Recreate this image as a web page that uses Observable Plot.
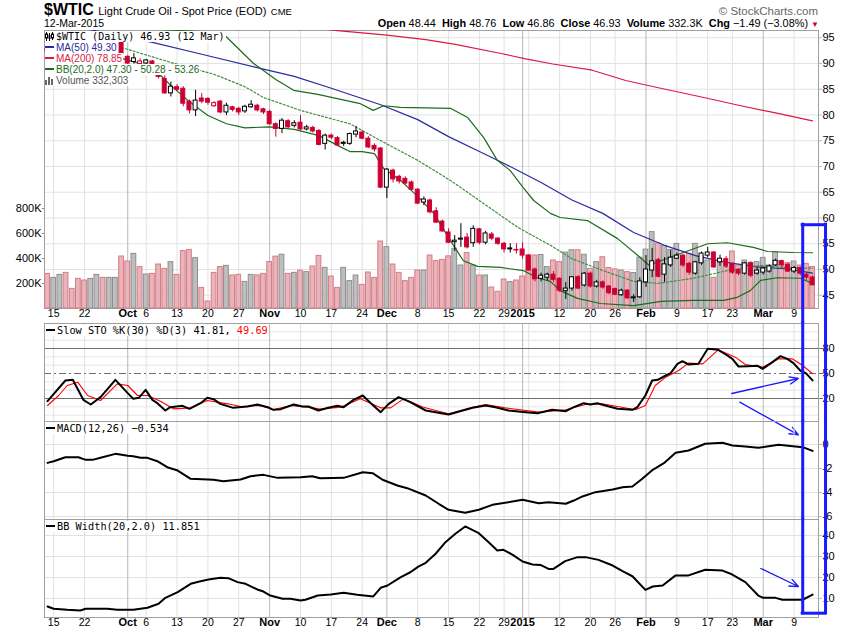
<!DOCTYPE html>
<html><head><meta charset="utf-8">
<script src="https://cdn.jsdelivr.net/npm/d3@7"></script>
<script src="https://cdn.jsdelivr.net/npm/@observablehq/plot@0.6"></script>
<style>
body{margin:0;background:#fff;}
#chart{position:relative;width:850px;height:633px;overflow:hidden;font-family:"Liberation Sans",Arial,sans-serif;background:#fff;}
#chart svg{position:absolute;left:0;}
.txt{position:absolute;white-space:nowrap;}
.leg{position:absolute;white-space:nowrap;background:#fff;line-height:11px;padding-right:1px;}
.mono{font-family:"DejaVu Sans Mono",monospace;font-size:10.3px;}
.sw{display:inline-block;width:9px;height:2px;vertical-align:middle;margin-right:2px;position:relative;top:-1px;}
</style></head><body><div id="chart"></div><script>
// ---------- calendar ----------
const firstSession = "2014-09-12", lastSession = "2015-03-12";
const holidays = ["2014-11-27","2014-12-25","2015-01-01","2015-01-19","2015-02-16"];
const closeBefore = 92.83; // close of 11-Sep-2014

// ---------- tick labels ----------
const weekTickDates = ["2014-09-15","2014-09-22","2014-10-06","2014-10-13","2014-10-20","2014-10-27","2014-11-10","2014-11-17","2014-11-24","2014-12-08","2014-12-15","2014-12-22","2014-12-29","2015-01-05","2015-01-12","2015-01-20","2015-01-26","2015-02-09","2015-02-17","2015-02-23","2015-03-09"];
const weekTickLabels = ["15","22","6","13","20","27","10","17","24","8","15","22","29","","12","20","26","9","17","23","9"];
const monthTickDates = ["2014-10-01","2014-11-03","2014-12-01","2015-01-02","2015-02-02","2015-03-02"];
const monthTickLabels = ["Oct","Nov","Dec","2015","Feb","Mar"];
const priceTicks = [45,50,55,60,65,70,75,80,85,90,95];
const volumeTicks = [200,400,600,800];
const stoTicks = [20,50,80];
const stoLight = [0,10,30,40,60,70,90,100];
const macdTicks = [0,-2,-4,-6];
const bbwTicks = [10,20,30,40];

// ---------- daily OHLC + volume (K) ----------
const open  = [92.8,92.2,92.9,94.9,94.3,93.0,92.3,91.3,91.5,92.9,92.6,93.2,94.1,91.3,90.3,89.9,90.0,90.4,89.3,87.0,84.2,85.4,85.1,82.6,80.9,83.2,83.1,81.7,82.6,80.5,81.5,81.2,80.7,81.5,81.8,81.1,80.6,78.2,77.3,78.8,77.9,78.5,77.2,77.5,76.9,74.4,76.0,75.5,74.4,74.4,76.2,76.6,75.4,74.0,73.5,65.9,69.2,68.0,67.6,66.9,65.5,63.0,63.4,61.3,59.3,57.2,55.3,55.8,56.2,55.1,57.8,55.2,56.8,56.0,55.0,53.9,53.8,53.9,52.7,50.0,48.2,48.4,49.0,48.2,45.8,46.3,48.5,46.9,49.2,46.7,47.5,46.7,46.2,45.0,45.9,44.4,44.6,47.5,49.8,51.8,49.0,50.8,52.1,52.7,51.1,49.2,51.2,52.7,53.3,51.4,52.0,51.0,49.9,49.2,51.2,49.2,49.4,49.6,50.8,51.6,50.9,49.6,50.3,49.0,48.44];
const high  = [93.3,93.1,95.0,95.3,94.5,93.3,92.5,91.9,93.1,93.3,93.8,94.9,94.5,91.5,91.9,90.9,90.8,90.6,89.6,87.6,86.4,85.9,85.5,82.9,84.8,84.2,83.4,82.6,82.8,82.3,81.7,81.5,81.9,82.8,82.1,81.3,80.9,78.5,79.3,79.1,78.9,79.9,78.0,77.8,77.2,76.3,76.3,75.8,74.9,76.5,77.8,77.0,75.8,74.4,73.7,69.6,69.5,68.3,68.0,67.2,65.7,64.1,63.7,62.0,59.6,57.9,56.6,58.9,57.0,58.5,58.0,57.4,57.2,56.2,55.3,55.0,55.0,55.2,52.9,50.3,49.3,49.3,49.6,48.4,47.5,48.6,48.8,49.4,49.5,47.9,47.8,46.9,46.4,46.2,46.1,45.1,48.4,52.7,54.1,52.2,52.3,53.7,53.2,53.0,51.4,51.6,53.4,54.3,53.5,52.8,52.5,51.3,50.1,51.4,51.5,50.4,50.5,50.9,52.0,51.8,51.2,50.6,50.5,49.3,48.76];
const low   = [91.8,91.5,92.6,93.9,92.8,91.9,90.8,90.9,91.3,92.0,92.3,92.8,91.4,89.6,89.9,89.5,89.3,88.9,87.0,84.0,83.5,84.6,81.6,80.2,79.7,82.2,81.9,81.5,80.2,79.9,80.6,79.9,80.3,81.3,80.6,80.1,78.0,75.7,76.4,77.4,77.5,76.9,76.9,76.5,74.0,73.2,75.2,73.9,73.9,74.1,75.6,75.2,73.5,72.8,65.7,63.8,66.8,66.6,66.4,65.3,62.6,62.4,60.8,59.0,57.2,55.0,53.5,54.3,54.0,54.3,54.8,54.8,55.6,54.7,53.2,53.2,53.0,52.0,49.7,47.6,47.6,47.8,47.5,45.5,44.2,45.8,46.1,46.6,46.4,46.4,46.2,45.1,44.9,44.8,44.2,43.6,44.4,46.5,48.4,48.4,47.5,50.4,51.9,50.4,48.9,48.9,50.8,52.3,50.2,50.6,50.2,49.0,48.8,48.9,48.4,48.9,48.9,49.3,50.6,50.4,49.4,49.2,48.8,47.9,46.86];
const close = [92.3,92.9,94.9,94.4,93.1,92.4,91.5,91.6,92.8,92.5,93.5,94.6,91.9,90.0,91.0,90.4,90.6,89.4,87.4,84.2,85.5,84.9,82.2,80.9,82.8,82.6,82.4,82.3,80.5,81.8,81.0,80.5,81.6,82.0,80.9,80.5,78.2,77.3,78.9,77.6,78.4,77.2,77.6,76.8,74.2,76.0,75.6,74.1,74.6,76.3,76.8,75.4,73.7,73.3,65.9,69.4,67.5,67.1,66.7,65.5,62.8,63.6,61.1,59.1,57.4,55.2,55.6,56.0,54.3,57.9,55.2,57.0,56.0,55.0,53.9,54.1,53.7,52.7,49.8,48.1,48.8,49.0,48.0,45.9,46.3,48.5,46.3,49.2,46.7,47.5,46.5,45.4,45.1,45.9,44.4,44.6,47.7,50.0,51.6,48.6,51.0,52.3,52.7,50.8,49.4,51.4,53.1,53.3,50.4,52.1,50.6,49.4,49.2,51.2,48.8,49.8,50.2,50.6,51.7,50.8,49.6,50.3,49.2,48.42,46.93];
const volumeK = [277,245,269,285,157,237,224,237,269,245,245,245,416,376,437,331,272,277,352,317,371,269,459,469,403,165,56,285,331,341,264,269,213,269,265,277,372,415,430,277,285,303,291,336,421,325,256,165,325,219,264,189,288,245,536,491,352,285,219,245,304,304,424,379,389,417,478,344,444,344,264,264,168,134,232,211,224,256,424,424,428,331,384,371,447,466,466,430,317,371,410,324,313,304,291,284,406,471,611,520,500,469,517,416,437,517,416,384,245,363,331,456,344,384,365,371,405,344,451,379,363,376,344,357,332.303];

// ---------- overlays: [trading day, value] ----------
const ma50 = [[0,98.3],[8,96.3],[17,94.1],[25,91.8],[35,88.9],[40,87.5],[46,85.2],[54,82.0],[60,79.1],[65,75.8],[70,72.9],[74,70.6],[80,66.9],[85,63.5],[90,60.9],[95,57.2],[100,54.7],[105,52.7],[110,51.4],[115,50.5],[120,50.1],[124,49.30]];
const ma200 = [[40,97.3],[47,96.4],[55,95.5],[61.3,94.64],[66.1,93.7],[73.7,91.9],[77.5,90.9],[81.9,89.9],[88.3,88.7],[93.7,86.7],[99,85.3],[106,83.5],[112,81.9],[118,80.4],[124,78.85]];
const bbUpper = [[12,97.5],[18,96.6],[25,96.2],[28.8,95.4],[33.4,90.0],[37,86.9],[39.9,84.8],[43.8,84.0],[50.7,82.2],[52.8,80.9],[54.5,81.8],[57.2,81.5],[65.3,81.3],[68.1,79.5],[70.7,75.6],[72.9,71.2],[75,69.2],[77.1,65.9],[78.8,63.4],[81.5,60.9],[83.1,60.1],[87.5,59.5],[92.4,56.0],[96.2,52.2],[97.5,50.8],[99.4,51.7],[102.6,53.1],[107,55.0],[110.2,55.2],[114.4,54.3],[116.7,53.5],[120.9,53.3],[124,53.26]];
const bbMiddle = [[12,93.1],[20,90.2],[27,87.9],[32,85.5],[35,83.4],[41,80.9],[49,78.3],[54.5,74.7],[60,71.2],[65.3,67.3],[70.7,62.8],[76.2,58.2],[81.5,54.7],[85,52.1],[90,49.8],[95,47.7],[99,47.3],[104.7,48.3],[110.2,49.8],[115.6,50.8],[121,50.2],[124,50.28]];
const bbLower = [[12,91.0],[15,90.0],[18,88.1],[20,85.7],[23,82.6],[26,79.9],[29,78.3],[32,77.5],[36,77.7],[40,77.2],[44,76.0],[47,74.1],[49,72.9],[51,72.9],[53,72.5],[54.5,69.6],[57.2,67.3],[60,64.2],[62.6,60.9],[65.3,55.6],[67.4,51.7],[69.7,50.6],[73.4,50.4],[77.1,49.8],[79.4,48.4],[81.5,47.7],[83.1,45.9],[85.9,44.4],[89.6,43.4],[95,43.0],[99.4,43.8],[104.7,44.0],[109.6,44.0],[111.8,44.6],[113.9,45.9],[115.6,47.9],[118.3,48.4],[122,48.3],[124,47.30]];

// ---------- indicator panels: [trading day, value] ----------
const stoK = [[0,16.8],[2.9,41.6],[4.1,42.4],[5.8,18.4],[7.0,12.8],[8.6,21.6],[11.0,42.4],[13.0,26.4],[13.9,19.6],[14.8,20.8],[15.9,30.4],[17.0,18.4],[17.8,14.4],[19.1,5.6],[19.9,9.6],[21.9,11.2],[23.0,7.6],[24.8,14.4],[25.9,20.8],[26.9,19.2],[28.0,13.6],[30.1,8.8],[32.4,10.4],[34.0,12.8],[35.7,9.6],[36.6,6.4],[37.8,7.2],[39.9,12.8],[41.3,10.4],[42.3,10.4],[43.9,5.6],[45.5,8.8],[47.0,11.2],[48.0,9.6],[49.6,18.4],[51.1,23.6],[52.4,14.4],[54.0,3.6],[55.3,13.6],[56.9,21.6],[58.8,15.6],[61.3,5.6],[62.9,3.6],[65.0,0.8],[67.3,5.6],[68.9,8.8],[71.0,11.6],[72.6,9.6],[74.7,5.6],[77.5,3.6],[79.4,2.4],[81.8,6.4],[84.0,4.8],[85.3,9.6],[86.9,14.4],[88.0,12.8],[89.1,14.4],[90.4,11.6],[92.4,7.6],[94.8,6.4],[95.6,9.6],[96.9,23.6],[98.0,41.6],[98.9,42.4],[100.2,47.6],[101.0,50.4],[102.1,61.6],[102.9,64.8],[103.9,60.8],[105.5,61.6],[107.0,79.6],[108.7,78.4],[110.2,71.6],[111.0,67.6],[112.0,58.4],[113.5,58.8],[115.1,59.2],[115.9,55.6],[117.5,63.6],[118.8,70.8],[119.9,67.6],[120.9,62.4],[122.0,53.6],[122.9,50.4],[124,41.81]];
const stoD = [[0,11.6],[1.8,23.6],[3.2,35.6],[4.9,39.6],[6.5,23.6],[8.6,17.6],[11.3,37.6],[13.0,35.6],[14.6,23.6],[16.2,23.6],[18.3,16.8],[20.4,7.6],[23.2,8.8],[25.9,17.6],[29.2,13.6],[31.3,10.4],[34.5,11.6],[36.6,6.4],[39.4,11.6],[42.1,9.6],[44.2,7.2],[47.5,9.6],[50.7,19.6],[54.0,8.8],[55.6,8.8],[57.7,19.6],[60.9,9.6],[65.0,1.6],[68.9,9.6],[71.0,12.8],[74.2,8.8],[79.6,3.6],[84.0,6.4],[87.2,12.8],[89.9,13.6],[95.3,6.4],[96.9,11.6],[98.5,35.6],[100.2,45.6],[102.3,53.6],[103.9,62.4],[106.2,61.6],[108.7,78.4],[111.5,69.6],[113.1,60.8],[115.9,57.6],[118.5,67.6],[120.7,67.6],[122.4,59.6],[124,49.69]];
const macd = [[0,-1.53],[1,-1.39],[2.9,-1.06],[5,-1.06],[6.2,-1.28],[7.3,-1.28],[8.9,-1.06],[11,-0.78],[13,-0.94],[13.9,-0.98],[15.1,-1.11],[16.2,-1.11],[17.8,-1.39],[19.4,-1.89],[21.1,-2.17],[23.2,-2.86],[26.9,-2.94],[28.5,-3.06],[31.3,-2.92],[32.9,-2.64],[35,-2.53],[37.3,-2.78],[41,-2.72],[42.9,-2.64],[44.2,-2.81],[48,-2.78],[51.1,-2.31],[52.7,-2.39],[54.3,-2.94],[56.7,-3.42],[58.3,-3.64],[61.3,-4.25],[63.4,-4.94],[65,-5.44],[67.7,-5.69],[69.9,-5.44],[72.1,-5.03],[77,-4.61],[79.6,-4.89],[81.2,-4.81],[84,-4.94],[85.3,-4.67],[86.7,-4.33],[88.8,-3.97],[91.6,-3.75],[93.2,-3.56],[94.8,-3.5],[96.4,-2.86],[98.1,-2.11],[99.9,-1.56],[101.8,-0.69],[103.9,-0.5],[106.6,0.06],[109.4,0.14],[111,-0.08],[113.1,-0.17],[115.2,-0.28],[118.5,-0.03],[121.2,-0.17],[122.4,-0.22],[124,-0.534]];
const bbWidth = [[0,6.2],[1,5.1],[3.2,4.6],[5.3,4.3],[6.2,5.1],[9.7,5.1],[11.3,4.6],[13.9,4.6],[16.2,5.6],[18,7.5],[19.1,10.3],[21.1,13.0],[23.2,17.0],[24.8,18.2],[26.1,19.0],[28,19.9],[29.3,19.7],[30.8,17.8],[32.1,17.0],[34,14.3],[35,13.3],[36.1,11.4],[38.1,9.9],[39.4,9.9],[41,9.0],[41.8,9.4],[43.8,11.4],[45.9,11.9],[48,12.7],[50.2,11.8],[52.8,11.0],[54,15.1],[55.1,16.2],[57.2,20.1],[58.8,22.5],[60.1,25.2],[61.3,27.0],[62.9,31.3],[64.5,36.8],[66.1,40.8],[67.7,44.3],[69.9,41.1],[71.5,36.8],[72.9,32.9],[73.9,33.2],[75.4,30.8],[77,27.6],[78.6,26.2],[79.9,26.0],[81.2,24.1],[82,24.1],[83.9,27.8],[85.9,29.7],[87.2,29.7],[89.3,28.4],[91.6,25.7],[93.2,23.0],[94.8,20.6],[96.9,14.1],[98.1,15.7],[99.7,16.2],[101.8,21.0],[103.9,21.0],[106.6,23.7],[109.4,23.3],[110.7,21.8],[113.1,17.8],[115.2,11.4],[116,10.3],[118,10.3],[119.1,9.4],[122.4,9.4],[124,11.851]];

// ---------- blue annotations (in each panel's own units) ----------
const boxDays = [122.4, 126.1];
const boxPriceTop = 58.7, boxPriceRun = 39.0, boxBbwBottom = 3.0;
const stoArrows = [{x1:110.9,y1:26.0,x2:121.7,y2:44.0},{x1:112.2,y1:15.6,x2:121.7,y2:-23.6}];
const bbwArrows = [{x1:115.6,y1:24.3,x2:121.7,y2:15.7}];

// ================= build =================
const fmt = d3.utcFormat("%Y-%m-%d");
const sessions = d3.utcDays(new Date(firstSession), d3.utcDay.offset(new Date(lastSession), 1))
  .filter(d => d.getUTCDay() % 6 !== 0 && !holidays.includes(fmt(d))).map(fmt);
const dayIndex = new Map(sessions.map((d, i) => [d, i]));
const weekTicks = weekTickDates.map((d, k) => ({i: dayIndex.get(d), label: weekTickLabels[k]}));
const monthTicks = monthTickDates.map((d, k) => ({i: dayIndex.get(d), label: monthTickLabels[k]}));
const bars = sessions.map((date, i) => {
  const prev = i ? close[i-1] : closeBefore;
  return {i, date, open: open[i], high: high[i], low: low[i], close: close[i], vol: volumeK[i],
          up: close[i] >= prev, hollow: close[i] >= open[i]};
});
const last = bars.length - 1;

const RED = "#cc0033", BLUE = "#1a1aff";
const W = 850, ML = 44, MR = 32;
const X = {domain: [-0.49, 124.96], axis: null};
const base = {fontFamily: "'Liberation Sans', Arial, sans-serif", fontSize: "11px", overflow: "visible", background: "transparent"};
const P = ([d, v]) => v, D = ([d]) => d;
const vGrid = () => [
  Plot.ruleX(weekTicks, {x: "i", stroke: "#e2e2e2"}),
  Plot.ruleX(monthTicks, {x: "i", stroke: "#b8b8b8"})
];
const boxSides = (y1, y2) => Plot.ruleX(boxDays.map(d => ({d})), {x: "d", y1, y2, stroke: BLUE, strokeWidth: 3, strokeLinecap: "square"});
const chart = document.getElementById("chart");
function put(svg, top) { svg.style.top = top + "px"; chart.appendChild(svg); }

// price grid + axes
put(Plot.plot({
  width: W, height: 293, marginLeft: ML, marginRight: MR, marginTop: 0, marginBottom: 15,
  x: X, y: {domain: [42.43, 96.41], axis: null}, style: {...base, background: "#fff"},
  marks: [
    Plot.ruleY(priceTicks, {stroke: "#e2e2e2"}),
    ...vGrid(),
    Plot.axisY({ticks: priceTicks, anchor: "right", tickSize: 3, tickPadding: 1, label: null, stroke: "#bbb", fontSize: 11}),
    Plot.text(weekTicks, {x: "i", text: "label", frameAnchor: "bottom", dy: 8, fontSize: 10.5}),
    Plot.text(monthTicks, {x: "i", text: "label", frameAnchor: "bottom", dy: 8, fontSize: 11, fontWeight: "bold"}),
    Plot.frame({stroke: "#a0a0a0"})
  ]
}), 30);

// volume
put(Plot.plot({
  width: W, height: 293, marginLeft: ML, marginRight: MR, marginTop: 0, marginBottom: 15,
  x: X, y: {domain: [0, 2224], axis: null}, style: base,
  marks: [
    Plot.rect(bars.filter(b => !b.up), {x1: b => b.i - 0.5, x2: b => b.i + 0.5, y1: () => 0, y2: "vol", insetLeft: 0.7, insetRight: 0.7, fill: "#e9b4ba", stroke: "#d57c86"}),
    Plot.rect(bars.filter(b => b.up), {x1: b => b.i - 0.5, x2: b => b.i + 0.5, y1: () => 0, y2: "vol", insetLeft: 0.7, insetRight: 0.7, fill: "#bebebe", stroke: "#8e8e8e"}),
    Plot.axisY({ticks: volumeTicks, anchor: "left", tickSize: 2, tickPadding: 1, label: null, tickFormat: d => d + "K", stroke: "#888", fontSize: 11})
  ]
}), 30);

// price overlays + candles
const candleSet = (filter, fill, stroke) => [
  Plot.ruleX(bars.filter(filter), {x: "i", y1: "low", y2: "high", stroke}),
  Plot.rect(bars.filter(filter), {x1: b => b.i - 0.5, x2: b => b.i + 0.5, y1: "open", y2: "close", insetLeft: 1.1, insetRight: 1.1, fill, stroke})
];
put(Plot.plot({
  width: W, height: 293, marginLeft: ML, marginRight: MR, marginTop: 0, marginBottom: 15,
  x: X, y: {domain: [42.43, 96.41], axis: null}, style: base,
  marks: [
    Plot.line(ma200, {x: D, y: P, stroke: "#d81b46", strokeWidth: 1.2, clip: true}),
    Plot.line(ma50, {x: D, y: P, stroke: "#2a2aa0", strokeWidth: 1.2, clip: true}),
    Plot.line(bbMiddle, {x: D, y: P, stroke: "#3f8f3f", strokeWidth: 1.2, strokeDasharray: "2,2", clip: true}),
    Plot.line(bbUpper, {x: D, y: P, stroke: "#1b6b1b", strokeWidth: 1.2, clip: true}),
    Plot.line(bbLower, {x: D, y: P, stroke: "#1b6b1b", strokeWidth: 1.2, clip: true}),
    ...candleSet(b => !b.up && !b.hollow, RED, RED),
    ...candleSet(b => !b.up && b.hollow, "#fff", RED),
    ...candleSet(b => b.up && b.hollow, "#fff", "#000"),
    ...candleSet(b => b.up && !b.hollow, "#000", "#000"),
    boxSides(() => boxPriceTop, () => boxPriceRun),
    Plot.ruleY([{y: boxPriceTop, a: boxDays[0], b: boxDays[1]}], {y: "y", x1: "a", x2: "b", stroke: BLUE, strokeWidth: 3, strokeLinecap: "square"})
  ]
}), 30);

// Slow stochastics
put(Plot.plot({
  width: W, height: 98, marginLeft: ML, marginRight: MR, marginTop: 0, marginBottom: 0,
  x: X, y: {domain: [-7.6, 110], axis: null}, style: {...base, background: "#fff"},
  marks: [
    Plot.ruleY(stoLight, {stroke: "#e6e6e6"}),
    ...vGrid(),
    Plot.ruleY([20, 80], {stroke: "#6e6e6e"}),
    Plot.ruleY([50], {stroke: "#6e6e6e", strokeDasharray: "7,3,2,3"}),
    Plot.axisY({ticks: stoTicks, anchor: "right", tickSize: 4, tickPadding: 0, label: null, stroke: "#6e6e6e", fontSize: 11}),
    Plot.line(stoD, {x: D, y: P, stroke: "#ff0000", strokeWidth: 1.1}),
    Plot.line(stoK, {x: D, y: P, stroke: "#000", strokeWidth: 2}),
    Plot.frame({stroke: "#a0a0a0"}),
    boxSides(undefined, undefined),
    Plot.arrow(stoArrows, {x1: "x1", y1: "y1", x2: "x2", y2: "y2", stroke: BLUE, strokeWidth: 1.3, headLength: 11, headAngle: 45})
  ]
}), 323);

// MACD
put(Plot.plot({
  width: W, height: 98, marginLeft: ML, marginRight: MR, marginTop: 0, marginBottom: 0,
  x: X, y: {domain: [-6.25, 1.917], axis: null}, style: base,
  marks: [
    Plot.ruleY(macdTicks, {stroke: "#e2e2e2"}),
    ...vGrid(),
    Plot.axisY({ticks: macdTicks, anchor: "right", tickSize: 3, tickPadding: 1, label: null, tickFormat: d => String(d), stroke: "#bbb", fontSize: 11}),
    Plot.line(macd, {x: D, y: P, stroke: "#000", strokeWidth: 2}),
    Plot.frame({stroke: "#a0a0a0"}),
    boxSides(undefined, undefined)
  ]
}), 421);

// BB width
put(Plot.plot({
  width: W, height: 114, marginLeft: ML, marginRight: MR, marginTop: 0, marginBottom: 16,
  x: X, y: {domain: [0.95, 47.62], axis: null}, style: base,
  marks: [
    Plot.ruleY(bbwTicks, {stroke: "#e2e2e2"}),
    ...vGrid(),
    Plot.axisY({ticks: bbwTicks, anchor: "right", tickSize: 3, tickPadding: 1, label: null, stroke: "#bbb", fontSize: 11}),
    Plot.text(weekTicks, {x: "i", text: "label", frameAnchor: "bottom", dy: 8, fontSize: 10.5}),
    Plot.text(monthTicks, {x: "i", text: "label", frameAnchor: "bottom", dy: 8, fontSize: 11, fontWeight: "bold"}),
    Plot.line(bbWidth, {x: D, y: P, stroke: "#000", strokeWidth: 2}),
    Plot.frame({stroke: "#a0a0a0"}),
    boxSides(() => 47.62, () => boxBbwBottom),
    Plot.ruleY([{y: boxBbwBottom, a: boxDays[0], b: boxDays[1]}], {y: "y", x1: "a", x2: "b", stroke: BLUE, strokeWidth: 3, strokeLinecap: "square"}),
    Plot.arrow(bbwArrows, {x1: "x1", y1: "y1", x2: "x2", y2: "y2", stroke: BLUE, strokeWidth: 1.3, headLength: 11, headAngle: 45})
  ]
}), 519);

// ---------- text: header and legends ----------
function addText(cls, left, top, html, css) {
  const d = document.createElement("div");
  d.className = cls; d.style.left = left + "px"; d.style.top = top + "px";
  if (css) d.style.cssText += css;
  d.innerHTML = html; chart.appendChild(d);
  return d;
}
const f2 = d3.format(".2f");
const lastBar = bars[last];
const chg = lastBar.close - bars[last-1].close;
const dateLabel = d3.utcFormat("%d-%b-%Y")(new Date(lastSession));
addText("txt", 44, 1.5, `<span style="font-weight:bold;font-size:16px">$WTIC</span> <span style="font-size:11px">Light Crude Oil - Spot Price (EOD)</span> <span style="font-size:9.5px">CME</span>`, "line-height:16px;");
addText("txt", 44, 17.5, dateLabel, "font-size:10.5px;line-height:11px;");
addText("txt", 0, 5, "&copy; StockCharts.com", "font-size:11.5px;line-height:12px;color:#666;left:auto;right:32px;");
addText("txt", 0, 16.5,
  `<b>Open</b> ${f2(lastBar.open)}&nbsp; <b>High</b> ${f2(lastBar.high)}&nbsp; <b>Low</b> ${f2(lastBar.low)}&nbsp; <b>Close</b> ${f2(lastBar.close)}&nbsp; <b>Volume</b> ${d3.format(".1f")(lastBar.vol)}K&nbsp; <b>Chg</b> ${f2(chg)} (${f2(chg / bars[last-1].close * 100)}%) <span style="color:${RED};font-size:8px">&#9660;</span>`,
  "font-size:10.9px;line-height:12px;left:auto;right:31px;");

const lastOf = a => a[a.length - 1][1];
const candleIcon = `<svg width="9" height="9" style="vertical-align:-1px;margin-right:2px;position:static"><path d="M1.5 0v9M4.5 1v8M7.5 0v8" stroke="#000"/><rect x="0.5" y="2" width="2" height="4" fill="#fff" stroke="#000"/><rect x="3.5" y="3" width="2" height="4" fill="#000"/><rect x="6.5" y="2" width="2" height="4" fill="#fff" stroke="#000"/></svg>`;
const volIcon = `<svg width="10" height="9" style="vertical-align:-1px;margin-right:1px;position:static"><rect x="0" y="4" width="2" height="5" fill="#666"/><rect x="3" y="1" width="2" height="8" fill="#666"/><rect x="6" y="3" width="2" height="6" fill="#666"/></svg>`;
addText("leg mono", 45, 30.5, `${candleIcon}$WTIC (Daily) ${f2(lastBar.close)} (${d3.utcFormat("%d %b")(new Date(lastSession))})`, "font-size:10px;");
addText("leg", 45, 41.5, `<span class="sw" style="background:#2a2aa0"></span><span style="color:#2a2aa0">MA(50) ${f2(lastOf(ma50))}</span>`, "font-size:10px;");
addText("leg", 45, 52.5, `<span class="sw" style="background:#d81b46"></span><span style="color:#d81b46">MA(200) ${f2(lastOf(ma200))}</span>`, "font-size:10px;");
addText("leg", 45, 63.5, `<span class="sw" style="background:#1b6b1b"></span><span style="color:#1b6b1b">BB(20,2.0) ${f2(lastOf(bbLower))} - ${f2(lastOf(bbMiddle))} - ${f2(lastOf(bbUpper))}</span>`, "font-size:10px;");
addText("leg", 45, 74.5, `${volIcon}<span style="color:#555">Volume ${d3.format(",")(Math.round(lastBar.vol * 1000))}</span>`, "font-size:10px;");

addText("leg mono", 46, 325, `<span class="sw" style="background:#000"></span>Slow STO %K(30) %D(3) ${f2(lastOf(stoK))}, <span style="color:#f00">${f2(lastOf(stoD))}</span>`);
addText("leg mono", 46, 423, `<span class="sw" style="background:#000"></span>MACD(12,26) ${d3.format(".3f")(lastOf(macd))}`);
addText("leg mono", 46, 521, `<span class="sw" style="background:#000"></span>BB Width(20,2.0) ${d3.format(".3f")(lastOf(bbWidth))}`);
</script></body></html>
